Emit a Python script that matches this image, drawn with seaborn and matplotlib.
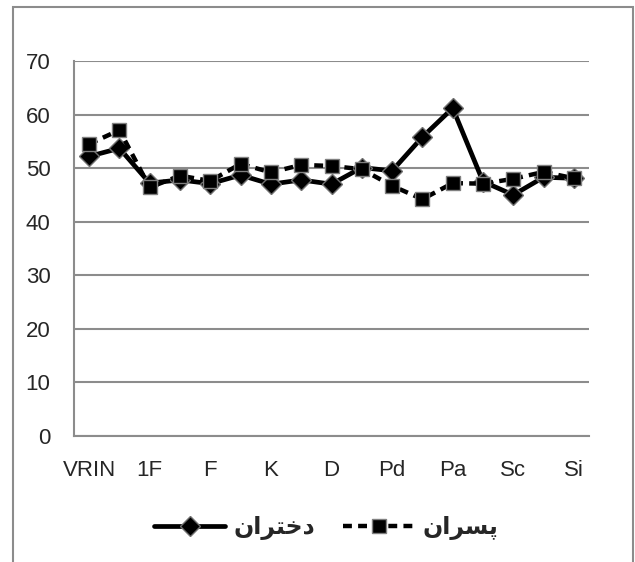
import matplotlib
matplotlib.use("Agg")
import matplotlib.pyplot as plt
import seaborn as sns
import pandas as pd
from matplotlib.patches import Rectangle

# MMPI-A scales (only every other one gets a label, like the original)
scales = ["VRIN", "TRIN", "1F", "2F", "F", "L", "K", "Hs", "D",
          "Hy", "Pd", "Mf", "Pa", "Pt", "Sc", "Ma", "Si"]
girls = [52.2, 53.7, 47.2, 47.8, 47.1, 48.7, 47.0, 47.8, 47.0,
         50.1, 49.5, 55.8, 61.2, 47.5, 45.0, 48.3, 48.1]
boys = [54.5, 57.1, 46.4, 48.6, 47.6, 50.8, 49.2, 50.6, 50.4,
        49.8, 46.7, 44.2, 47.2, 47.1, 48.0, 49.3, 48.1]
# Persian labels, written in presentation forms (visual order) so they render joined
girls_label = "\uFEE5\uFE8D\uFEAE\uFE98\uFEA7\uFEA9"   # دختران
boys_label = "\uFEE5\uFE8D\uFEAE\uFEB4\uFB58"          # پسران
yticks = [0, 10, 20, 30, 40, 50, 60, 70]

df = pd.DataFrame({"scale": scales, "girls": girls, "boys": boys})
df["pos"] = range(len(scales))

sns.set_style("white")
grid_c = "#8c8c8c"

fig = plt.figure(figsize=(6.35, 5.62), dpi=100)
ax = fig.add_axes([0.1165, 0.2242, 0.8111, 0.6673])

sns.lineplot(data=df, x="pos", y="girls", ax=ax, color="black", lw=3.4,
             marker="D", markersize=10, markeredgecolor="#707070",
             markeredgewidth=1, label=girls_label)
sns.lineplot(data=df, x="pos", y="boys", ax=ax, color="black", lw=3.2,
             linestyle=(0, (2.0, 1.4)), marker="s", markersize=10,
             markeredgecolor="#808080", markeredgewidth=1, label=boys_label)

ax.set_xlim(-0.5, len(scales) - 0.5)
ax.set_ylim(0, 70)
ax.set_yticks(yticks)
ax.set_xticks(df["pos"][::2])
ax.set_xticklabels(df["scale"][::2], family="Liberation Sans", fontsize=16)
ax.set_yticklabels([str(v) for v in yticks], family="Liberation Sans", fontsize=16)
ax.tick_params(axis="x", length=0, pad=17)
ax.tick_params(axis="y", length=0, pad=17)
ax.set_xlabel("")
ax.set_ylabel("")
ax.grid(axis="y", color=grid_c, lw=1.5)
ax.set_axisbelow(True)
for s in ["top", "right"]:
    ax.spines[s].set_visible(False)
for s in ["left", "bottom"]:
    ax.spines[s].set_color(grid_c)
    ax.spines[s].set_linewidth(1.5)

leg = ax.legend(loc="center", bbox_to_anchor=(0.49, -0.245), ncol=2, frameon=False,
                handlelength=3.0, handletextpad=0.35, columnspacing=1.2,
                prop={"family": "DejaVu Sans", "weight": "bold", "size": 17})

# outer chart-area frame, open at the bottom like the cropped original
fig.patches.append(Rectangle((13 / 635, -0.1), 620 / 635, 1.1 - 7 / 562,
                             transform=fig.transFigure, fill=False,
                             edgecolor=grid_c, lw=1.5))

fig.savefig("out.png", dpi=100)
